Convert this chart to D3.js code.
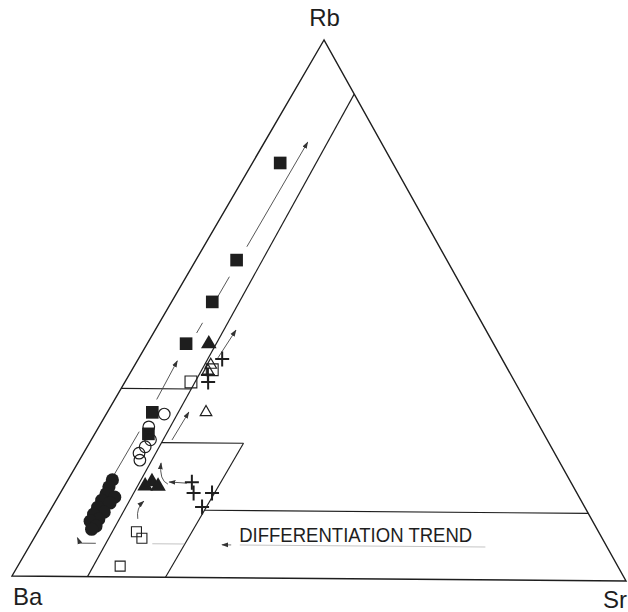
<!DOCTYPE html>
<html><head><meta charset="utf-8">
<script src="https://cdn.jsdelivr.net/npm/d3@7"></script>
<style>html,body{margin:0;padding:0;background:#fff;} svg{display:block;}</style>
</head><body><svg id="c" width="628" height="612"></svg>
<script>
// ---- DATA: compositions in %, given as [Rb, Sr]  (Ba = 100 - Rb - Sr)
const vertexLabels = ["Rb", "Ba", "Sr"];
const filledSquares   = [[77.1,4.5],[59.0,6.6],[51.2,6.6],[43.4,6.3],[30.6,7.3],[26.6,8.7]];
const openCircles     = [[30.3,9.4],[27.9,8.1],[25.5,9.6],[24.2,9.4],[23.0,9.0],[21.7,9.8]];
const filledCircles   = [[18.0,7.2],[16.7,7.3],[15.4,7.5],[14.8,9.2],[14.2,7.4],[13.7,9.0],[12.9,7.4],
                         [12.0,8.9],[11.6,7.4],[10.7,8.7],[10.3,7.5],[9.4,8.9],[8.8,8.5]];
const filledTriangles = [[43.4,10.0],[16.9,13.1],[17.7,13.8],[16.9,15.2]];
const openTriangles   = [[30.7,16.0],[39.5,12.3],[38.4,12.4]];
const openSquares     = [[38.6,13.0],[36.3,10.7],[8.4,16.0],[7.2,17.5],[2.0,16.6]];
const crosses         = [[40.6,13.6],[37.6,12.8],[36.3,13.5],[17.7,20.3],[15.7,21.6],[15.7,24.6],[13.1,24.3]];

// field boundaries: pairs of [Rb, Sr] end points
const boundaries = [
  [[0,12.3],[90,10]],
  [[35,0],[35,11.4]],
  [[25,11.7],[25,25]],
  [[0,25],[25,25]],
  [[12.5,25],[12.5,87.5]]
];
// differentiation trend arrows (polylines of [Rb, Sr]); head = arrowhead at end
const trendArrows = [
  {pts:[[19,7],[27,7]], head:false},
  {pts:[[33,6.8],[40.2,6.5]], head:true},
  {pts:[[45.4,7],[47.3,7]], head:false},
  {pts:[[51.9,7],[55.9,7]], head:false},
  {pts:[[61.5,7],[81,7]], head:true},
  {pts:[[6.2,10.5],[6.2,7.9],[7.2,7.0]], head:true},
  {pts:[[25.5,13.1],[30.7,13.2]], head:true},
  {pts:[[40.8,12.8],[46,13.1]], head:true},
  {pts:[[17.5,19.6],[17.7,16.6]], head:true}
];
const curvedArrows = [
  [[17.3,16.6],[18.0,14.8],[21.2,13.5]],
  [[10.8,15.0],[12.8,13.7],[14.1,14.3]]
];
const faintLines = [[[6.2,19.7],[6.2,24.9]], [[6.1,34],[6.1,74]]];
const faintArrows = [[[6.1,32.6],[6.1,31.1]]];
const trendLabel = {text:"DIFFERENTIATION TREND", at:[6.7,33.6]};

// ---- LAYOUT
const svg = d3.select("#c");
const V = {Rb:[324,40], Ba:[12,576], Sr:[626,581]};
const srX = d3.scaleLinear().domain([0,100]).range([0, V.Sr[0]-V.Ba[0]]);
const srY = d3.scaleLinear().domain([0,100]).range([0, V.Sr[1]-V.Ba[1]]);
const rbX = d3.scaleLinear().domain([0,100]).range([0, V.Rb[0]-V.Ba[0]]);
const rbY = d3.scaleLinear().domain([0,100]).range([0, V.Rb[1]-V.Ba[1]]);
const P = d => [V.Ba[0] + srX(d[1]) + rbX(d[0]), V.Ba[1] + srY(d[1]) + rbY(d[0])];
const line = d3.line();
const ink = "#1e1e1e";

const defs = svg.append("defs");
defs.append("marker").attr("id","ah").attr("viewBox","0 0 10 10").attr("refX",9).attr("refY",5)
  .attr("markerWidth",7).attr("markerHeight",7).attr("markerUnits","userSpaceOnUse").attr("orient","auto")
  .append("path").attr("d","M0,1.5 L10,5 L0,8.5 Z").attr("fill","#333");

// triangle frame
svg.append("path").attr("d", line([P([100,0]),P([0,0]),P([0,100])]) + "Z")
  .attr("fill","none").attr("stroke",ink).attr("stroke-width",1.4).attr("stroke-linejoin","miter");

svg.append("g").selectAll("path").data(boundaries).join("path")
  .attr("d", d => line(d.map(P))).attr("fill","none").attr("stroke",ink).attr("stroke-width",1.15);

svg.append("g").selectAll("path").data(faintLines).join("path")
  .attr("d", d => line(d.map(P))).attr("fill","none").attr("stroke","#c4c4c4").attr("stroke-width",1);
svg.append("g").selectAll("path").data(faintArrows).join("path")
  .attr("d", d => line(d.map(P))).attr("fill","none").attr("stroke","#555").attr("stroke-width",0.8)
  .attr("marker-end","url(#ah)");

svg.append("g").selectAll("path").data(trendArrows).join("path")
  .attr("d", d => line(d.pts.map(P))).attr("fill","none").attr("stroke","#444").attr("stroke-width",0.9)
  .attr("marker-end", d => d.head ? "url(#ah)" : null);

svg.append("g").selectAll("path").data(curvedArrows).join("path")
  .attr("d", d => { const [a,c,b] = d.map(P); return `M${a[0]},${a[1]} Q${c[0]},${c[1]} ${b[0]},${b[1]}`; })
  .attr("fill","none").attr("stroke","#444").attr("stroke-width",0.9).attr("marker-end","url(#ah)");

// markers
const sym = (type,size) => d3.symbol().type(type).size(size)();
const g = svg.append("g");
g.selectAll(".fc").data(filledCircles).join("circle").attr("class","fc")
  .attr("cx",d=>P(d)[0]).attr("cy",d=>P(d)[1]).attr("r",6.6).attr("fill",ink);
g.selectAll(".fs").data(filledSquares).join("path").attr("class","fs")
  .attr("transform",d=>`translate(${P(d)})`).attr("d",sym(d3.symbolSquare,160)).attr("fill",ink);
g.selectAll(".oc").data(openCircles).join("circle").attr("class","oc")
  .attr("cx",d=>P(d)[0]).attr("cy",d=>P(d)[1]).attr("r",5.8).attr("fill","none").attr("stroke",ink).attr("stroke-width",1.2);
g.selectAll(".ft").data(filledTriangles).join("path").attr("class","ft")
  .attr("transform",d=>`translate(${P(d)})`).attr("d",sym(d3.symbolTriangle,105)).attr("fill",ink);
g.selectAll(".ot").data(openTriangles).join("path").attr("class","ot")
  .attr("transform",d=>`translate(${P(d)})`).attr("d",sym(d3.symbolTriangle,58))
  .attr("fill","none").attr("stroke",ink).attr("stroke-width",1.2);
g.selectAll(".os").data(openSquares).join("path").attr("class","os")
  .attr("transform",d=>`translate(${P(d)})`).attr("d",(d,i)=>sym(d3.symbolSquare, i<2?140:100))
  .attr("fill","none").attr("stroke",ink).attr("stroke-width",1.1);
g.selectAll(".cr").data(crosses).join("path").attr("class","cr")
  .attr("transform",d=>`translate(${P(d)})`).attr("d","M-7,0H7M0,-7.5V7.5")
  .attr("fill","none").attr("stroke",ink).attr("stroke-width",2);

// text
const font = "'Liberation Sans', Arial, Helvetica, sans-serif";
const tl = P(trendLabel.at);
svg.append("text").attr("x",tl[0]).attr("y",tl[1]).text(trendLabel.text)
  .attr("font-family",font).attr("font-size",21).attr("fill",ink)
  .attr("textLength",233).attr("lengthAdjust","spacingAndGlyphs");
svg.append("text").attr("x",V.Rb[0]+0.5).attr("y",V.Rb[1]-14).attr("text-anchor","middle")
  .text(vertexLabels[0]).attr("font-family",font).attr("font-size",24).attr("fill",ink);
svg.append("text").attr("x",V.Ba[0]+1).attr("y",V.Ba[1]+29).attr("text-anchor","start")
  .text(vertexLabels[1]).attr("font-family",font).attr("font-size",24).attr("fill",ink);
svg.append("text").attr("x",V.Sr[0]+1).attr("y",V.Sr[1]+27).attr("text-anchor","end")
  .text(vertexLabels[2]).attr("font-family",font).attr("font-size",24).attr("fill",ink);
</script></body></html>
